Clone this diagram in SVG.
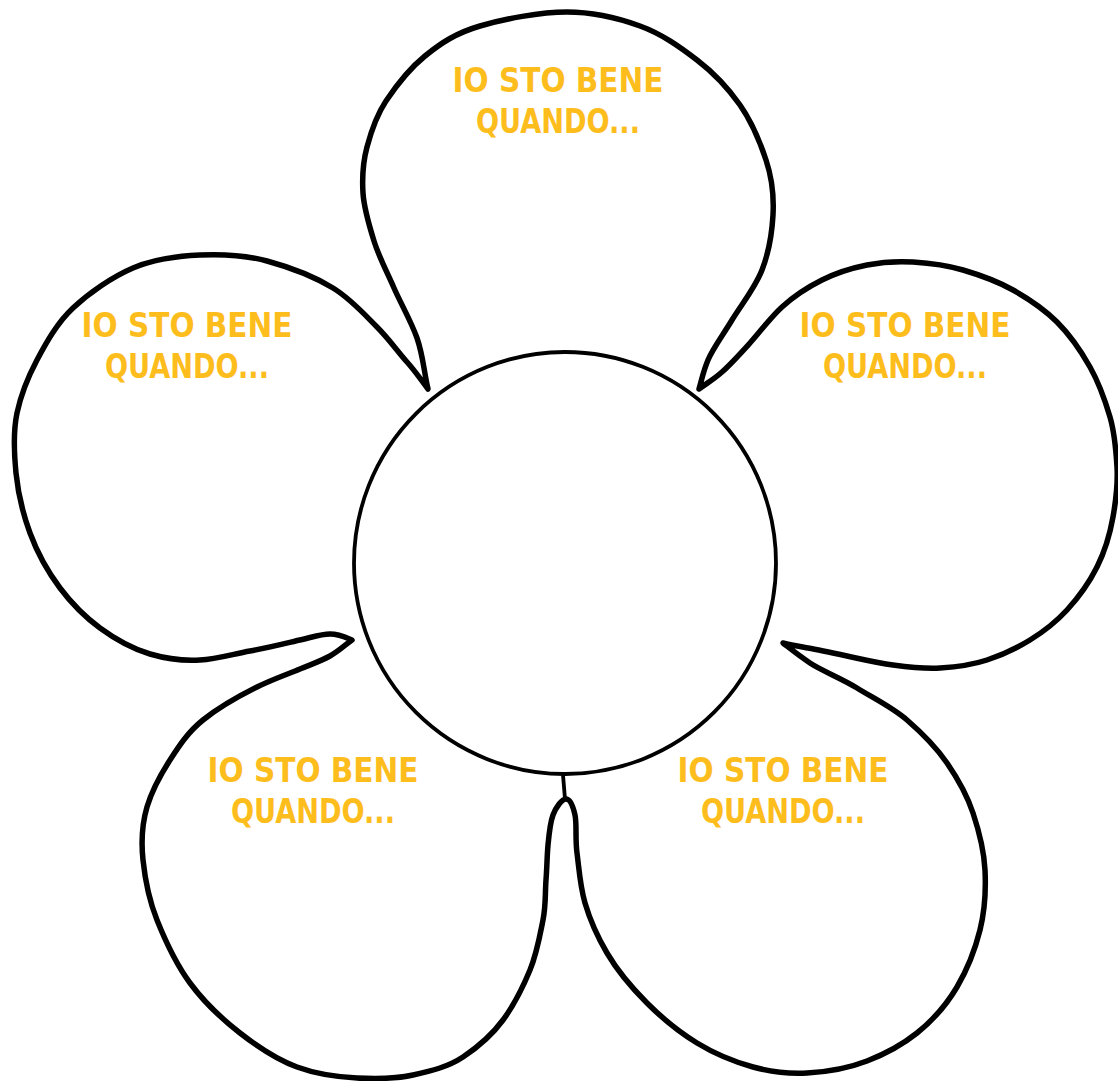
<svg xmlns="http://www.w3.org/2000/svg" width="1118" height="1081" viewBox="0 0 1118 1081">
<style>
.outline{fill:#fff;stroke:#000;stroke-width:5.5;stroke-linejoin:round;stroke-linecap:round}
.thin{fill:#fff;stroke:#000;stroke-width:3.8}
.lbl{font-family:"Liberation Sans Narrow","DejaVu Sans Condensed","Liberation Sans",sans-serif;font-weight:700;font-size:34px;fill:#FDBD1D;text-anchor:middle}
</style>
<rect width="1118" height="1081" fill="#fff"/>
<g id="flower-outline">
<path class="outline" d="M428 389 C424 372 423 355 417 338 S401 304 394 288 S379 257 374 241 S364 209 363 193 S363 162 367 147 S376 116 386 101 S409 69 425 56 S456 33 480 26 S540 12 567 12 S618 18 640 26 S680 47 697 60 S728 88 740 105 S760 142 766 160 S774 197 773 215 S769 252 762 270 S741 305 732 320 S713 348 708 360 S702 379 699 389
C707 383 713 380 722 372 S740 354 750 343 S770 318 782 307 S808 287 822 280 S852 268 867 265 S897 261 913 262 S946 265 963 270 S997 281 1013 290 S1044 309 1057 322 S1081 351 1090 367 S1105 400 1110 417 S1116 450 1117 467 S1116 500 1113 517 S1105 551 1097 567 S1078 598 1067 610 S1043 632 1030 640 S1002 655 987 660 S956 667 940 668 S908 667 893 665 S861 659 847 656 S819 650 808 648 S791 645 783 643
C792 650 798 655 810 663 S841 678 857 688 S892 707 907 720 S936 747 947 763 S967 795 973 813 S984 850 985 870 S985 910 980 930 S967 970 957 987 S932 1021 917 1033 S885 1054 867 1061 S826 1072 807 1073 S771 1072 753 1067 S715 1054 697 1043 S662 1018 647 1003 S617 970 607 953 S590 920 585 903 S579 868 577 853 S577 824 575 815 S570 799 566 799
S556 807 553 815 S549 834 548 845 S547 867 546 880 S546 905 543 920 S537 953 530 970 S514 1005 503 1020 S478 1047 463 1057 S431 1071 413 1075 S376 1079 357 1078 S316 1074 297 1067 S258 1047 240 1033 S204 1002 190 983 S165 940 157 920 S145 879 143 860 S142 824 147 807 S161 774 170 760 S188 732 203 720 S241 695 257 687 S288 674 300 669 S321 661 330 656 S345 645 352 640
C345 637 339 634 330 634 S313 637 300 640 S267 648 250 651 S217 659 200 660 S167 659 150 654 S115 639 100 628 S72 604 60 588 S37 552 30 533 S18 493 16 473 S13 432 17 413 S28 377 37 360 S57 323 73 308 S112 277 133 268 S178 256 200 255 S245 255 267 261 S315 277 333 288 S365 315 377 327 S398 352 407 362 S421 380 428 389 Z"/>
<path d="M563 775 L565 799" fill="none" stroke="#000" stroke-width="3.8" stroke-linecap="round"/>
</g>
<g id="center">
<circle class="thin" cx="565" cy="563" r="211"/>
</g>
<g id="petal-top">
<text class="lbl" x="558" y="92" textLength="211" lengthAdjust="spacingAndGlyphs">IO STO BENE</text>
<text class="lbl" x="558" y="133" textLength="164" lengthAdjust="spacingAndGlyphs">QUANDO...</text>
</g>
<g id="petal-left">
<text class="lbl" x="187" y="337" textLength="211" lengthAdjust="spacingAndGlyphs">IO STO BENE</text>
<text class="lbl" x="187" y="378" textLength="164" lengthAdjust="spacingAndGlyphs">QUANDO...</text>
</g>
<g id="petal-right">
<text class="lbl" x="905" y="337" textLength="211" lengthAdjust="spacingAndGlyphs">IO STO BENE</text>
<text class="lbl" x="905" y="378" textLength="164" lengthAdjust="spacingAndGlyphs">QUANDO...</text>
</g>
<g id="petal-bottom-left">
<text class="lbl" x="313" y="782" textLength="211" lengthAdjust="spacingAndGlyphs">IO STO BENE</text>
<text class="lbl" x="313" y="823" textLength="164" lengthAdjust="spacingAndGlyphs">QUANDO...</text>
</g>
<g id="petal-bottom-right">
<text class="lbl" x="783" y="782" textLength="211" lengthAdjust="spacingAndGlyphs">IO STO BENE</text>
<text class="lbl" x="783" y="823" textLength="164" lengthAdjust="spacingAndGlyphs">QUANDO...</text>
</g>
</svg>
